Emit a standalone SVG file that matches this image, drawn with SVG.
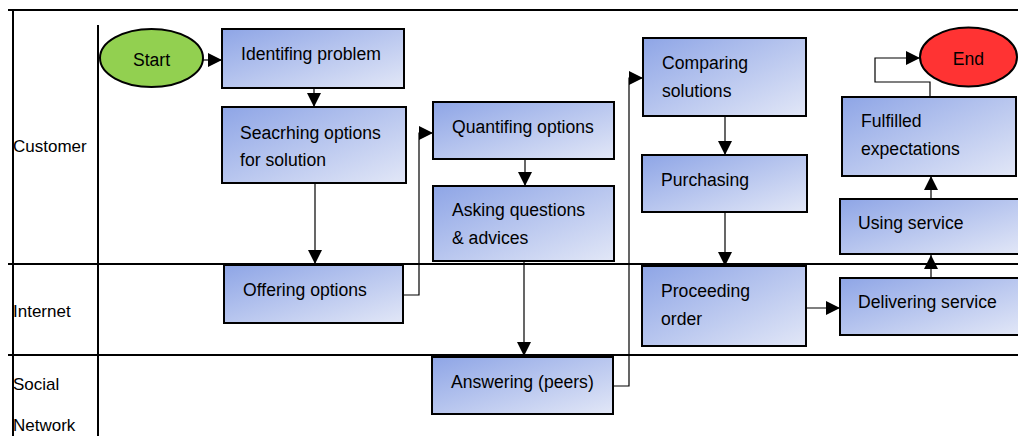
<svg xmlns="http://www.w3.org/2000/svg" width="1018" height="436" viewBox="0 0 1018 436">
<defs>
<linearGradient id="g" x1="0" y1="0" x2="1" y2="1">
<stop offset="0" stop-color="#8ea5e6"/>
<stop offset="1" stop-color="#e2e7f7"/>
</linearGradient>
<marker id="ah" viewBox="0 0 10 10" refX="10" refY="5" markerWidth="14" markerHeight="14" markerUnits="userSpaceOnUse" orient="auto">
<path d="M0,0 L10,5 L0,10 z" fill="#000"/>
</marker>
</defs>
<style>
.box{fill:url(#g);stroke:#000;stroke-width:2}
.t{font-family:"Liberation Sans",Arial,sans-serif;font-size:17.6px;fill:#000}
.l{font-family:"Liberation Sans",Arial,sans-serif;font-size:17px;fill:#000}
.lane{stroke:#000;stroke-width:2;fill:none}
.c{stroke:#000;stroke-width:1.2;fill:none;marker-end:url(#ah)}
</style>
<g id="lanes">
<line class="lane" x1="8" y1="10" x2="1018" y2="10"/>
<line class="lane" x1="13" y1="10" x2="13" y2="436"/>
<line class="lane" x1="98" y1="25" x2="98" y2="436"/>
<line class="lane" x1="8" y1="264" x2="1018" y2="264"/>
<line class="lane" x1="8" y1="355" x2="1018" y2="355"/>
<text class="l" x="13" y="152">Customer</text>
<text class="l" x="13" y="317">Internet</text>
<text class="l" x="13" y="390">Social</text>
<text class="l" x="13" y="431">Network</text>
</g>
<g id="connectors">
<line class="c" x1="203" y1="60" x2="222" y2="60"/>
<line class="c" x1="314" y1="88" x2="314" y2="107"/>
<line class="c" x1="315" y1="183" x2="315" y2="264"/>
<path class="c" d="M403,295 H419 V133 H433"/>
<line class="c" x1="525" y1="159" x2="525" y2="186"/>
<line class="c" x1="524" y1="261" x2="524" y2="356"/>
<path class="c" d="M613,386 H629 V78 H643"/>
<line class="c" x1="725" y1="116" x2="725" y2="155"/>
<line class="c" x1="725" y1="212" x2="725" y2="266"/>
<line class="c" x1="806" y1="308" x2="840" y2="308"/>
<line class="c" x1="931" y1="278" x2="931" y2="255"/>
<line class="c" x1="931" y1="199" x2="931" y2="176"/>
<path class="c" d="M930,97 V82 H875 V58 H920"/>
</g>
<g id="start">
<ellipse cx="151.5" cy="58" rx="51.5" ry="29" fill="#92d050" stroke="#000" stroke-width="2"/>
<text class="t" x="151.5" y="66" text-anchor="middle">Start</text>
</g>
<g id="identifying">
<rect class="box" x="222" y="29" width="182" height="59"/>
<text class="t" x="241" y="60">Identifing problem</text>
</g>
<g id="searching">
<rect class="box" x="222" y="107" width="184" height="76"/>
<text class="t" x="240" y="139">Seacrhing options</text>
<text class="t" x="240" y="166">for solution</text>
</g>
<g id="offering">
<rect class="box" x="224" y="265" width="179" height="58"/>
<text class="t" x="243" y="296">Offering options</text>
</g>
<g id="quantifing">
<rect class="box" x="433" y="102" width="181" height="57"/>
<text class="t" x="452" y="133">Quantifing options</text>
</g>
<g id="asking">
<rect class="box" x="433" y="186" width="181" height="75"/>
<text class="t" x="452" y="216">Asking questions</text>
<text class="t" x="452" y="244">&amp; advices</text>
</g>
<g id="answering">
<rect class="box" x="432" y="357" width="181" height="57"/>
<text class="t" x="451" y="388">Answering (peers)</text>
</g>
<g id="comparing">
<rect class="box" x="643" y="38" width="163" height="78"/>
<text class="t" x="662" y="69">Comparing</text>
<text class="t" x="662" y="97">solutions</text>
</g>
<g id="purchasing">
<rect class="box" x="642" y="155" width="165" height="57"/>
<text class="t" x="661" y="186">Purchasing</text>
</g>
<g id="proceeding">
<rect class="box" x="642" y="266" width="164" height="80"/>
<text class="t" x="661" y="297">Proceeding</text>
<text class="t" x="661" y="325">order</text>
</g>
<g id="delivering">
<rect class="box" x="840" y="278" width="180" height="57"/>
<text class="t" x="858" y="308">Delivering service</text>
</g>
<g id="using">
<rect class="box" x="840" y="199" width="180" height="55"/>
<text class="t" x="858" y="229">Using service</text>
</g>
<g id="fulfilled">
<rect class="box" x="842" y="97" width="174" height="79"/>
<text class="t" x="861" y="127">Fulfilled</text>
<text class="t" x="861" y="155">expectations</text>
</g>
<g id="end">
<ellipse cx="968.5" cy="57" rx="48.5" ry="29.5" fill="#ff3333" stroke="#000" stroke-width="2"/>
<text class="t" x="968.5" y="65" text-anchor="middle">End</text>
</g>
</svg>
